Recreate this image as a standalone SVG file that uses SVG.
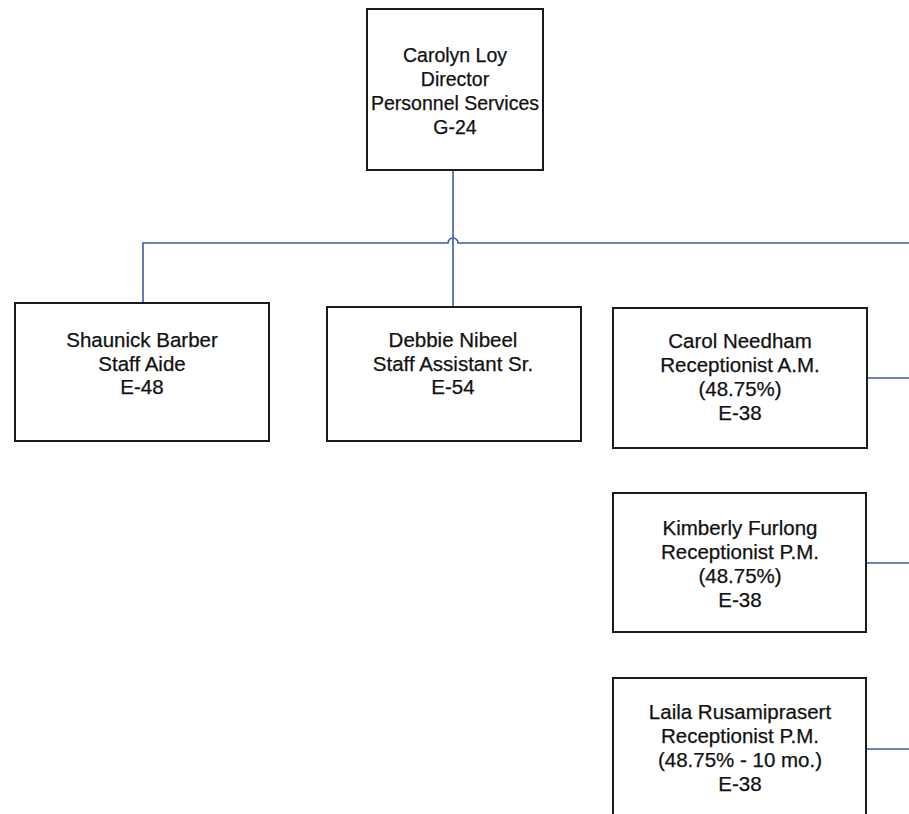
<svg xmlns="http://www.w3.org/2000/svg" width="909" height="814" viewBox="0 0 909 814">
<style>
.box{fill:#fff;stroke:#1a1a1a;stroke-width:2}
.t{font-family:"Liberation Sans",Arial,sans-serif;font-size:20.5px;fill:#111;stroke:#111;stroke-width:0.25;text-anchor:middle}
.s{font-size:19.5px}
.c{fill:none;stroke:#3a5ca6;stroke-width:1.6}
</style>
<rect width="909" height="814" fill="#fff"/>
<g id="connectors">
<path class="c" d="M453 170 V307"/>
<path class="c" d="M143 303 V243 H448 A5 5 0 0 1 458 243 H909"/>
<path class="c" d="M867 378 H909"/>
<path class="c" d="M866 563 H909"/>
<path class="c" d="M866 749 H909"/>
</g>
<g id="n-loy">
<rect class="box" x="367" y="9" width="176" height="161"/>
<text class="t s" x="455" y="62">Carolyn Loy</text>
<text class="t s" x="455" y="86">Director</text>
<text class="t s" x="455" y="110">Personnel Services</text>
<text class="t s" x="455" y="134">G-24</text>
</g>
<g id="n-barber">
<rect class="box" x="15" y="303" width="254" height="138"/>
<text class="t" x="142" y="347">Shaunick Barber</text>
<text class="t" x="142" y="370.5">Staff Aide</text>
<text class="t" x="142" y="394">E-48</text>
</g>
<g id="n-nibeel">
<rect class="box" x="327" y="307" width="254" height="134"/>
<text class="t" x="453" y="347">Debbie Nibeel</text>
<text class="t" x="453" y="370.5">Staff Assistant Sr.</text>
<text class="t" x="453" y="394">E-54</text>
</g>
<g id="n-needham">
<rect class="box" x="613" y="308" width="254" height="140"/>
<text class="t" x="740" y="347.5">Carol Needham</text>
<text class="t" x="740" y="371.5">Receptionist A.M.</text>
<text class="t" x="740" y="395.5">(48.75%)</text>
<text class="t" x="740" y="419.5">E-38</text>
</g>
<g id="n-furlong">
<rect class="box" x="613" y="493" width="253" height="139"/>
<text class="t" x="740" y="534.5">Kimberly Furlong</text>
<text class="t" x="740" y="558.5">Receptionist P.M.</text>
<text class="t" x="740" y="582.5">(48.75%)</text>
<text class="t" x="740" y="606.5">E-38</text>
</g>
<g id="n-rusamiprasert">
<rect class="box" x="613" y="678" width="253" height="150"/>
<text class="t" x="740" y="719">Laila Rusamiprasert</text>
<text class="t" x="740" y="743">Receptionist P.M.</text>
<text class="t" x="740" y="767">(48.75% - 10 mo.)</text>
<text class="t" x="740" y="791">E-38</text>
</g>
</svg>
